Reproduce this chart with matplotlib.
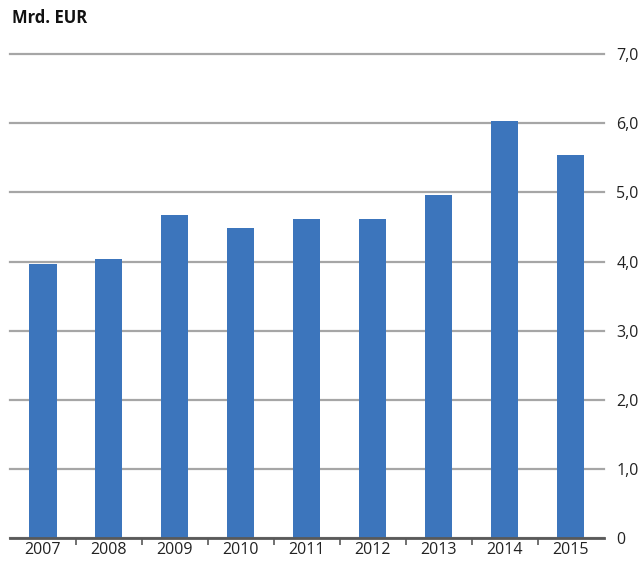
import matplotlib.pyplot as plt
import numpy as np

years = ["2007", "2008", "2009", "2010", "2011", "2012", "2013", "2014", "2015"]
values = [3.96, 4.04, 4.68, 4.48, 4.62, 4.61, 4.96, 6.03, 5.54]
yticks = [0, 1, 2, 3, 4, 5, 6, 7]
ylabels = ["0", "1,0", "2,0", "3,0", "4,0", "5,0", "6,0", "7,0"]

plt.rcParams['font.family'] = ['Open Sans', 'DejaVu Sans']

fig = plt.figure(figsize=(6.41, 5.64), dpi=100)
ax = fig.add_axes([0.0156, 0.046, 0.9264, 0.858])

x = np.arange(len(years))
ax.bar(x, values, width=0.41, color="#3c75bc", zorder=3)

ax.set_xlim(-0.5, len(years) - 0.5)
ax.set_ylim(0, 7)

# gitter
ax.set_yticks(yticks)
ax.set_yticklabels(ylabels, fontsize=11.5, color="#222222")
ax.yaxis.tick_right()
ax.tick_params(axis="y", length=0, pad=9)
ax.grid(axis="y", color="#a6a6a6", linewidth=1.6, zorder=0)
for gl in ax.get_ygridlines():
    gl.set_clip_on(False)  # oberste linie sonst halb abgeschnitten

ax.set_xticks(x)
ax.set_xticklabels(years, fontsize=11.5, color="#222222")
ax.set_xticks(np.arange(0.5, len(years) - 1, 1), minor=True)
ax.tick_params(axis="x", which="major", length=0, pad=3)
ax.tick_params(axis="x", which="minor", length=5, width=1.2, color="#595959")

for s in ["top", "left", "right"]:
    ax.spines[s].set_visible(False)
ax.spines["bottom"].set_color("#595959")
ax.spines["bottom"].set_linewidth(2)
ax.spines["bottom"].set_zorder(4)

fig.text(0.018, 0.968, "Mrd. EUR", fontsize=12, fontweight="bold", va="center", ha="left", color="#111111")

fig.savefig("out.png", dpi=100)
